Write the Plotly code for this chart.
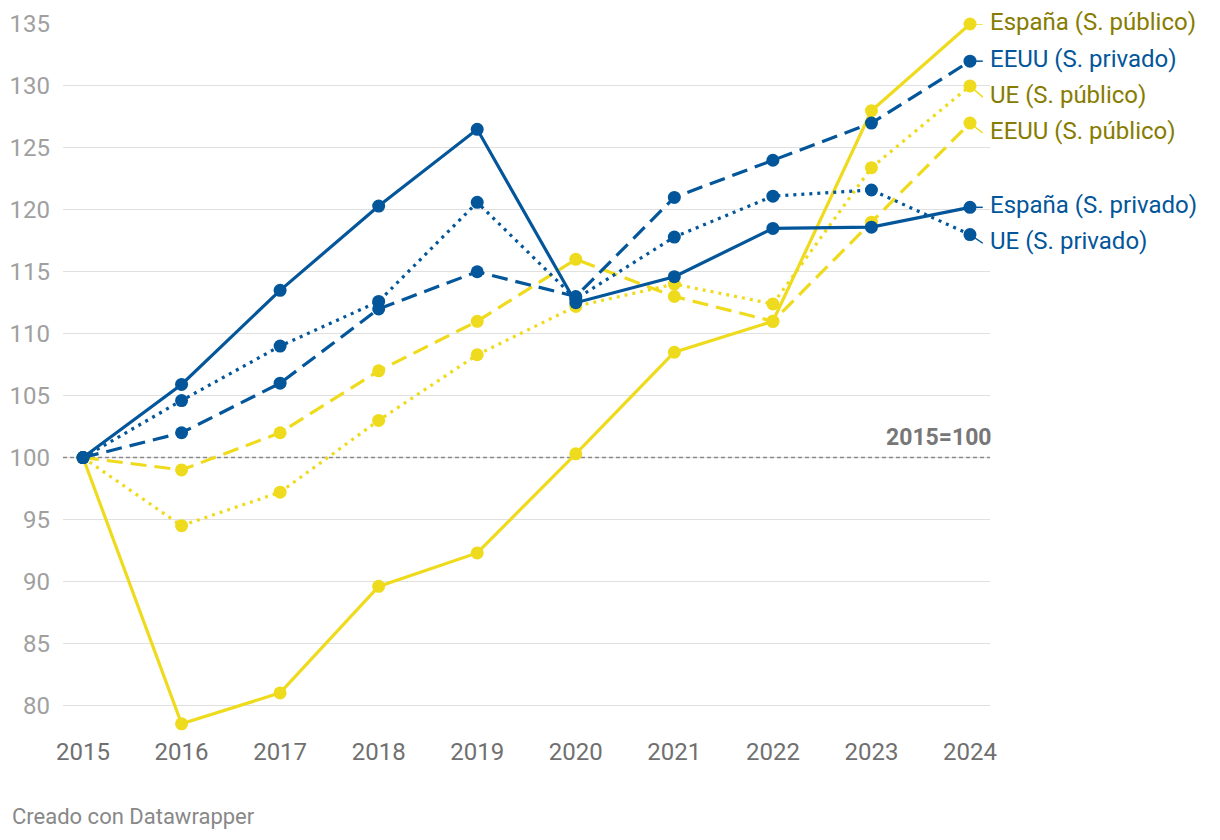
import plotly.graph_objects as go

years = [2015, 2016, 2017, 2018, 2019, 2020, 2021, 2022, 2023, 2024]

espana_publico = [100, 78.5, 81.0, 89.6, 92.3, 100.3, 108.5, 111.0, 128.0, 135.0]
ue_publico = [100, 94.5, 97.2, 103.0, 108.3, 112.2, 114.0, 112.4, 123.4, 130.0]
eeuu_publico = [100, 99.0, 102.0, 107.0, 111.0, 116.0, 113.0, 111.0, 119.0, 127.0]
espana_privado = [100, 105.9, 113.5, 120.3, 126.5, 112.5, 114.6, 118.5, 118.6, 120.2]
ue_privado = [100, 104.6, 109.0, 112.6, 120.6, 112.8, 117.8, 121.1, 121.6, 118.0]
eeuu_privado = [100, 102.0, 106.0, 112.0, 115.0, 113.0, 121.0, 124.0, 127.0, 132.0]

y_ticks = [80, 85, 90, 95, 100, 105, 110, 115, 120, 125, 130, 135]
base_value = 100
base_label = "2015=100"
footer = "Creado con Datawrapper"

YELLOW = "#efdb1d"
BLUE = "#03569a"
OLIVE = "#877c00"

series = [
    ("España (S. público)", espana_publico, YELLOW, "solid", OLIVE),
    ("UE (S. público)", ue_publico, YELLOW, "3px,5px", OLIVE),
    ("EEUU (S. público)", eeuu_publico, YELLOW, "16px,8px", OLIVE),
    ("España (S. privado)", espana_privado, BLUE, "solid", BLUE),
    ("UE (S. privado)", ue_privado, BLUE, "3px,5px", BLUE),
    ("EEUU (S. privado)", eeuu_privado, BLUE, "16px,8px", BLUE),
]

fig = go.Figure()

xmin, xmax = 2014.797, 2024.203

# baseline dashed line (over gridlines, under traces)
fig.add_shape(type="line", x0=xmin, x1=xmax, y0=base_value, y1=base_value,
              line=dict(color="#8a8a8a", width=1.5, dash="4px,3px"), layer="between")
fig.add_annotation(x=xmax, y=base_value, text="<b>" + base_label + "</b>",
                   showarrow=False, xanchor="right", yanchor="bottom", yshift=5, xshift=4,
                   font=dict(family="Roboto", size=23, color="#777777"))

for name, vals, col, dash, lab in series:
    fig.add_trace(go.Scatter(
        x=years, y=vals, mode="lines+markers", name=name,
        line=dict(color=col, width=3.2, dash=dash),
        marker=dict(color=col, size=13),
        cliponaxis=False, showlegend=False, hoverinfo="skip"))

# right-side labels with simple de-overlap
order = sorted(series, key=lambda s: -s[1][-1])
gap = 2.9
prev = None
for name, vals, col, dash, lab in order:
    ly = vals[-1] if prev is None else min(vals[-1], prev - gap)
    prev = ly
    fig.add_shape(type="line", x0=years[-1], y0=vals[-1], x1=years[-1] + 0.13, y1=ly,
                  line=dict(color=col, width=1.5), layer="between")
    fig.add_annotation(x=years[-1] + 0.2, y=ly, text=name, showarrow=False,
                       xanchor="left", yanchor="middle", xshift=-2, yshift=2,
                       font=dict(family="Roboto", size=24, color=lab))

fig.add_annotation(x=-0.057, y=-0.115, xref="paper", yref="paper", text=footer,
                   showarrow=False, xanchor="left", yanchor="middle",
                   font=dict(family="Roboto", size=22, color="#888888"))

fig.update_layout(
    width=1220, height=840,
    margin=dict(l=55, r=238, t=16, b=113, autoexpand=False),
    paper_bgcolor="white", plot_bgcolor="white",
    xaxis=dict(range=[xmin, xmax], tickvals=years, ticktext=[str(y) for y in years],
               showgrid=False, zeroline=False, showline=False, ticks="",
               tickfont=dict(family="Roboto", size=24, color="#707070")),
    yaxis=dict(range=[77.6, 135], tickvals=y_ticks,
               ticktext=[str(t) for t in y_ticks],
               showgrid=True, gridcolor="#e0e0e0", gridwidth=1, zeroline=False,
               showline=False, ticks="", ticklabelstandoff=12,
               tickfont=dict(family="Roboto", size=24, color="#a0a0a0")),
)

fig.write_html("out.html")
